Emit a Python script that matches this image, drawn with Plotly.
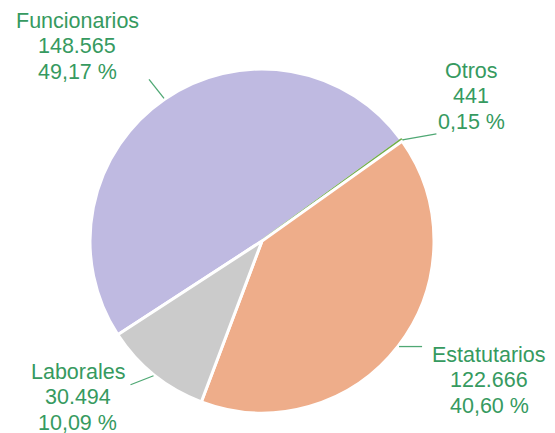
import math
import plotly.graph_objects as go

# ---- data ----
categories = ["Funcionarios", "Otros", "Estatutarios", "Laborales"]
values = [148565, 441, 122666, 30494]
value_labels = ["148.565", "441", "122.666", "30.494"]
pct_labels = ["49,17 %", "0,15 %", "40,60 %", "10,09 %"]
colors = ["#BFBAE1", "#70AD47", "#EEAD8A", "#CBCBCB"]

# ---- layout / style ----
W, H = 555, 433
OFF = 8  # default page body margin
CX, CY, R = 262, 241, 172
ROT = 237
TEXT_COLOR = "#369A60"
LINE_COLOR = "#4FA874"
FONT = "Liberation Sans, Arial, sans-serif"
FONT_SIZE = 21.5
LINE_GAP = 25.3
TEXT_DY = 0
# first-line centre of each label block (page px)
label_pos = [(77, 21), (471, 71), (489, 355), (77.5, 372)]
# leader line offsets from slice edge (px)
leader_offset = [(-15, -19), (34, -6), (23, 0), (-23, 9)]
R_LINE = 173


def px(x):
    return (x - OFF) / W


def py(y):
    return 1 - (y - OFF) / H


fig = go.Figure()
fig.add_trace(go.Pie(
    labels=categories,
    values=values,
    sort=False,
    direction="clockwise",
    rotation=ROT,
    textinfo="none",
    hoverinfo="label+value+percent",
    showlegend=False,
    marker=dict(colors=colors,
                line=dict(color=["white", colors[1], "white", "white"], width=3)),
    domain=dict(x=[px(CX - R), px(CX + R)], y=[py(CY + R), py(CY - R)]),
))

total = sum(values)
cum = 0
annotations = []
shapes = []
for i, v in enumerate(values):
    mid = math.radians(ROT + (cum + v / 2) / total * 360)
    cum += v
    sx = CX + R_LINE * math.sin(mid)
    sy = CY - R_LINE * math.cos(mid)
    ox, oy = leader_offset[i]
    shapes.append(dict(type="line", xref="paper", yref="paper",
                       x0=px(sx), y0=py(sy), x1=px(sx + ox), y1=py(sy + oy),
                       line=dict(color=LINE_COLOR, width=1.3)))
    lx, ly = label_pos[i]
    for j, t in enumerate([categories[i], value_labels[i], pct_labels[i]]):
        annotations.append(dict(
            text=t, x=px(lx), y=py(ly + j * LINE_GAP + TEXT_DY),
            xref="paper", yref="paper",
            xanchor="center", yanchor="middle", showarrow=False,
            font=dict(family=FONT, size=FONT_SIZE, color=TEXT_COLOR)))

fig.update_layout(
    width=W, height=H,
    margin=dict(l=0, r=0, t=0, b=0),
    paper_bgcolor="white", plot_bgcolor="white",
    annotations=annotations, shapes=shapes,
)

fig.write_html("out.html")
